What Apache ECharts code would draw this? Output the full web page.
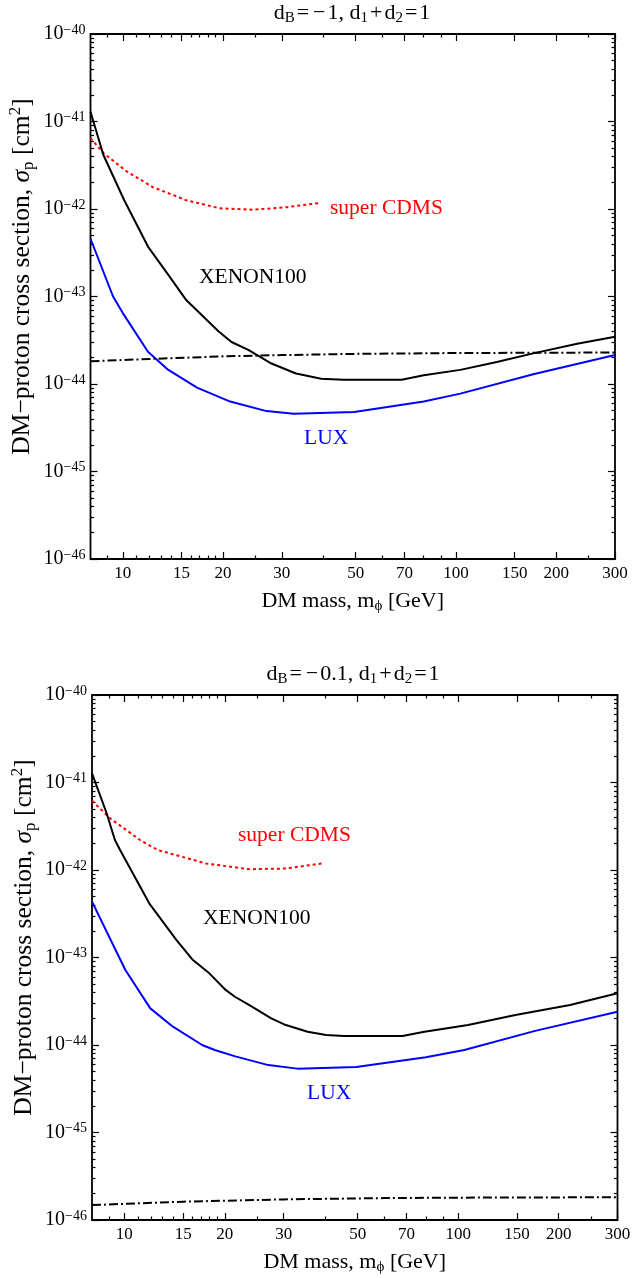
<!DOCTYPE html>
<html>
<head>
<meta charset="utf-8">
<script src="https://cdn.jsdelivr.net/npm/echarts@6/dist/echarts.min.js"></script>
<style>
html,body{margin:0;padding:0;background:#fff;}
#chart{width:632px;height:1278px;}
</style>
</head>
<body>
<div id="chart"></div>
<script>
// ---------- tick values ----------
const massTicks = [10, 15, 20, 30, 50, 70, 100, 150, 200, 300];
const massMinorTicks = [9, 11, 12, 13, 14, 16, 17, 18, 19, 25, 40, 60, 80, 90, 250];
const sigmaExponents = [-46, -45, -44, -43, -42, -41, -40];
const sigmaMinorMultipliers = [2, 3, 4, 5, 6, 7, 8, 9];

// ---------- top panel (d_B = -1) ----------
const topXenonMass  = [8.0, 8.74, 10.1, 11.9, 13.8, 15.5, 19.4, 21.2, 23.8, 27.7, 33.1, 39.4, 45.9, 68.7, 80, 103, 132.6, 170.5, 231, 300];
const topXenonSigma = [1.29e-41, 4.17e-42, 1.26e-42, 3.72e-43, 1.70e-43, 9.1e-44, 3.98e-44, 3.02e-44, 2.45e-44, 1.74e-44, 1.32e-44, 1.15e-44, 1.12e-44, 1.12e-44, 1.26e-44, 1.45e-44, 1.78e-44, 2.24e-44, 2.88e-44, 3.47e-44];
const topLuxMass  = [8.0, 9.35, 10.0, 11.9, 13.7, 16.7, 21.0, 27.0, 32.6, 49.5, 80, 103, 170.5, 300];
const topLuxSigma = [4.57e-43, 1.0e-43, 6.46e-44, 2.34e-44, 1.45e-44, 9.1e-45, 6.3e-45, 4.9e-45, 4.57e-45, 4.79e-45, 6.3e-45, 7.76e-45, 1.29e-44, 2.14e-44];
const topCdmsMass  = [8.0, 8.74, 10.27, 12.3, 15.5, 19.5, 24.6, 31.0, 39.0];
const topCdmsSigma = [6.46e-42, 4.37e-42, 2.69e-42, 1.78e-42, 1.26e-42, 1.02e-42, 9.8e-43, 1.05e-42, 1.17e-42];
const topModelMass  = [8, 12, 20, 30, 50, 100, 300];
const topModelSigma = [1.82e-44, 1.93e-44, 2.07e-44, 2.14e-44, 2.21e-44, 2.26e-44, 2.29e-44];

// ---------- bottom panel (d_B = -0.1) ----------
const botXenonMass  = [8.0, 8.85, 9.37, 9.71, 11.87, 14.33, 16.05, 17.97, 20.11, 21.43, 23.69, 27.55, 30.46, 35.4, 40.2, 45.5, 68.1, 79.2, 107, 148.4, 216.3, 300];
const botXenonSigma = [1.27e-41, 4.45e-42, 2.20e-42, 1.69e-42, 4.16e-43, 1.58e-43, 9.35e-44, 6.59e-44, 4.26e-44, 3.56e-44, 2.86e-44, 2.02e-44, 1.69e-44, 1.42e-44, 1.30e-44, 1.27e-44, 1.27e-44, 1.42e-44, 1.69e-44, 2.20e-44, 2.86e-44, 3.90e-44];
const botLuxMass  = [8.0, 10.07, 11.96, 13.98, 17.1, 18.65, 21.5, 27, 33, 49.5, 80, 104.3, 170, 300];
const botLuxSigma = [4.35e-43, 7.19e-44, 2.62e-44, 1.62e-44, 1.0e-44, 8.77e-45, 7.41e-45, 5.89e-45, 5.37e-45, 5.62e-45, 7.24e-45, 8.77e-45, 1.45e-44, 2.40e-44];
const botCdmsMass  = [8.0, 9.06, 11.14, 12.6, 17.52, 23.69, 30.46, 39.2];
const botCdmsSigma = [6.2e-42, 3.90e-42, 2.20e-42, 1.69e-42, 1.19e-42, 1.02e-42, 1.04e-42, 1.19e-42];
const botModelMass  = [8, 15, 30, 60, 100, 300];
const botModelSigma = [1.48e-46, 1.62e-46, 1.72e-46, 1.78e-46, 1.80e-46, 1.82e-46];

// ---------- texts ----------
const FONT = '"Liberation Serif", "DejaVu Serif", serif';
const topTitle = '{a|d}{sub|B}{op|=}{op|−}{a|1, d}{sub|1}{op|+}{a|d}{sub|2}{op|=}{a|1}';
const botTitle = '{a|d}{sub|B}{op|=}{op|−}{a|0.1, d}{sub|1}{op|+}{a|d}{sub|2}{op|=}{a|1}';
const xName = '{a|DM mass, m}{sub|ϕ}{a| [GeV]}';
const yName = '{a|DM−proton cross section, }{i|σ}{sub|p}{a| [cm}{sup|2}{a|]}';

function richSet(main, small, lh) {
  return {
    a:   { fontFamily: FONT, fontSize: main, color: '#000', lineHeight: lh },
    op:  { fontFamily: FONT, fontSize: main, color: '#000', lineHeight: lh, padding: [0, 2, 0, 2] },
    i:   { fontFamily: FONT, fontSize: main, color: '#000', lineHeight: lh, fontStyle: 'italic' },
    sub: { fontFamily: FONT, fontSize: small, color: '#000', lineHeight: small, verticalAlign: 'bottom' },
    sup: { fontFamily: FONT, fontSize: small, color: '#000', lineHeight: small, verticalAlign: 'top' }
  };
}
const titleRich = richSet(22, 15, 26);
const xNameRich = richSet(22, 15, 26);
const yNameRich = richSet(25.5, 17, 30);

// The log axis is fed sigma in units of 1e-46 cm^2 (ECharts rounds tiny tick values to 0).
const SIGMA_UNIT = 1e-46;
const UNIT_EXP = -46;
const yMajor = sigmaExponents.map(function (e) { return Math.pow(10, e - UNIT_EXP); });
const yMinor = [];
sigmaExponents.slice(0, -1).forEach(function (e) {
  sigmaMinorMultipliers.forEach(function (k) { yMinor.push(k * Math.pow(10, e - UNIT_EXP)); });
});

function pairs(xs, ys) { return xs.map(function (x, i) { return [x, ys[i] / SIGMA_UNIT]; }); }

const grids = [
  { left: 90.5, top: 34, width: 524.5, height: 525 },
  { left: 92, top: 695, width: 525.5, height: 525 }
];

const xAxes = [], yAxes = [];
const tickLine = { color: '#000', width: 1.2 };
grids.forEach(function (g, gi) {
  const common = { type: 'log', logBase: 10, min: 8, max: 300, gridIndex: gi,
    axisLine: { show: false }, splitLine: { show: false }, minorTick: { show: false } };
  xAxes.push(Object.assign({}, common, {
    position: 'bottom',
    name: xName, nameLocation: 'middle', nameGap: 29, nameMoveOverlap: false,
    nameTextStyle: { rich: xNameRich },
    axisTick: { show: true, inside: true, length: 7, customValues: massTicks, lineStyle: tickLine },
    axisLabel: { show: true, customValues: massTicks, fontFamily: FONT, fontSize: 17, color: '#000', margin: 6,
      formatter: function (v) { return String(Math.round(v)); } }
  }));
  xAxes.push(Object.assign({}, common, {
    position: 'bottom',
    axisTick: { show: true, inside: true, length: 3.5, customValues: massMinorTicks, lineStyle: tickLine },
    axisLabel: { show: false }
  }));
  xAxes.push(Object.assign({}, common, {
    position: 'top',
    axisTick: { show: true, inside: true, length: 7, customValues: massTicks, lineStyle: tickLine },
    axisLabel: { show: false }
  }));
  xAxes.push(Object.assign({}, common, {
    position: 'top',
    axisTick: { show: true, inside: true, length: 3.5, customValues: massMinorTicks, lineStyle: tickLine },
    axisLabel: { show: false }
  }));

  const ycommon = { type: 'log', logBase: 10, min: yMajor[0], max: yMajor[yMajor.length - 1], gridIndex: gi,
    axisLine: { show: false }, splitLine: { show: false }, minorTick: { show: false } };
  yAxes.push(Object.assign({}, ycommon, {
    position: 'left',
    name: yName, nameLocation: 'middle', nameGap: 53, nameMoveOverlap: false,
    nameTextStyle: { rich: yNameRich, padding: [0, 0, 0, 40] },
    axisTick: { show: true, inside: true, length: 7, customValues: yMajor, lineStyle: tickLine },
    axisLabel: { show: true, customValues: yMajor, margin: 5,
      formatter: function (v) {
        const e = Math.round(Math.log(v) / Math.LN10) + UNIT_EXP;
        return '{b|10}{s|' + (e < 0 ? '−' + (-e) : e) + '}';
      },
      rich: {
        b: { fontFamily: FONT, fontSize: 20, color: '#000', lineHeight: 22 },
        s: { fontFamily: FONT, fontSize: 14, color: '#000', lineHeight: 14, verticalAlign: 'top' }
      }
    }
  }));
  yAxes.push(Object.assign({}, ycommon, {
    position: 'left',
    axisTick: { show: true, inside: true, length: 3.5, customValues: yMinor, lineStyle: tickLine },
    axisLabel: { show: false }
  }));
  yAxes.push(Object.assign({}, ycommon, {
    position: 'right',
    axisTick: { show: true, inside: true, length: 7, customValues: yMajor, lineStyle: tickLine },
    axisLabel: { show: false }
  }));
  yAxes.push(Object.assign({}, ycommon, {
    position: 'right',
    axisTick: { show: true, inside: true, length: 3.5, customValues: yMinor, lineStyle: tickLine },
    axisLabel: { show: false }
  }));
});

function lineSeries(name, gi, xs, ys, color, type) {
  return {
    name: name, type: 'line', xAxisIndex: gi * 4, yAxisIndex: gi * 4,
    data: pairs(xs, ys), showSymbol: false, symbol: 'none', smooth: false,
    lineStyle: { color: color, width: 2, type: type },
    z: 5, silent: true, animation: false
  };
}

const series = [
  lineSeries('superCDMS', 0, topCdmsMass, topCdmsSigma, '#ff0000', [3, 3]),
  lineSeries('XENON100', 0, topXenonMass, topXenonSigma, '#000000', 'solid'),
  lineSeries('LUX', 0, topLuxMass, topLuxSigma, '#0000ff', 'solid'),
  lineSeries('model', 0, topModelMass, topModelSigma, '#000000', [9, 3, 2, 3]),
  lineSeries('superCDMS', 1, botCdmsMass, botCdmsSigma, '#ff0000', [3, 3]),
  lineSeries('XENON100', 1, botXenonMass, botXenonSigma, '#000000', 'solid'),
  lineSeries('LUX', 1, botLuxMass, botLuxSigma, '#0000ff', 'solid'),
  lineSeries('model', 1, botModelMass, botModelSigma, '#000000', [9, 3, 2, 3])
];

function label(text, x, y, color) {
  return { type: 'text', x: x, y: y, z: 20,
    style: { text: text, fill: color, font: '21.5px ' + FONT, align: 'left', verticalAlign: 'middle' } };
}

const option = {
  backgroundColor: '#fff',
  animation: false,
  grid: grids.map(function (g) {
    return Object.assign({ show: true, borderColor: '#000', borderWidth: 1.8, backgroundColor: 'transparent',
      containLabel: false, outerBoundsMode: 'none' }, g);
  }),
  xAxis: xAxes,
  yAxis: yAxes,
  series: series,
  graphic: [
    { type: 'text', x: 352, y: 13, style: { text: topTitle, rich: titleRich, align: 'center', verticalAlign: 'middle' } },
    { type: 'text', x: 353, y: 674, style: { text: botTitle, rich: titleRich, align: 'center', verticalAlign: 'middle' } },
    label('super CDMS', 330, 208, '#ff0000'),
    label('XENON100', 199, 277, '#000000'),
    label('LUX', 304, 438, '#0000ff'),
    label('super CDMS', 238, 835, '#ff0000'),
    label('XENON100', 203, 918, '#000000'),
    label('LUX', 307, 1093, '#0000ff')
  ]
};

const chart = echarts.init(document.getElementById('chart'), null, { renderer: 'canvas' });
chart.setOption(option);
</script>
</body>
</html>
